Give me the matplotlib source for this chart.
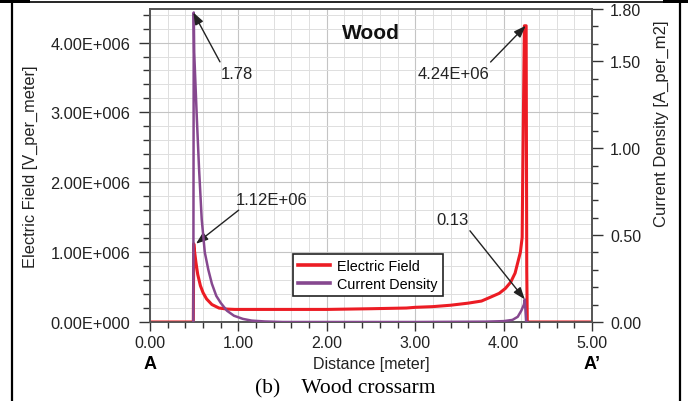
import numpy as np
import matplotlib.pyplot as plt
from matplotlib.lines import Line2D
from matplotlib.patches import Rectangle
from matplotlib.ticker import MultipleLocator, FixedLocator, FuncFormatter

plt.rcParams['font.family'] = ['Liberation Sans', 'DejaVu Sans']

# distance along A-A' [m]
dist_e = [0.0, 0.49, 0.495, 0.50, 0.52, 0.54, 0.57, 0.60, 0.64, 0.70, 0.78, 0.87,
          0.96, 1.0, 1.5, 2.0, 2.5, 2.9, 3.0, 3.2, 3.4, 3.6, 3.75, 3.86, 3.95,
          4.02, 4.08, 4.13, 4.16, 4.19, 4.21, 4.215, 4.235, 4.255, 4.262, 4.268, 5.0]
# electric field [1e6 V/m]
efield = [0.0, 0.0, 1.12, 1.05, 0.85, 0.68, 0.52, 0.42, 0.33, 0.25, 0.20, 0.185,
          0.18, 0.18, 0.18, 0.18, 0.19, 0.20, 0.21, 0.22, 0.24, 0.27, 0.30, 0.36, 0.41,
          0.48, 0.57, 0.70, 0.85, 1.0, 1.21, 1.9, 4.24, 4.24, 0.73, 0.0, 0.0]

dist_j = [0.49, 0.495, 0.50, 0.53, 0.555, 0.585, 0.62, 0.66, 0.70, 0.75, 0.80, 0.87,
          0.95, 1.05, 1.15, 1.3, 1.5, 2.0, 3.0, 3.8, 4.0, 4.1, 4.16, 4.20, 4.23,
          4.24, 4.255, 4.27]
# current density [A/m2]
jdens = [0.0, 1.78, 1.55, 1.17, 0.88, 0.59, 0.40, 0.30, 0.22, 0.15, 0.11, 0.065,
         0.036, 0.018, 0.008, 0.003, 0.0, 0.0, 0.0, 0.002, 0.005, 0.012, 0.03, 0.065, 0.10,
         0.13, 0.0, 0.0]

red = '#ec1c24'
purple = '#86488f'
gray = '#333333'

fig = plt.figure(figsize=(6.88, 4.02), dpi=100)
ax = fig.add_axes([150/688, 79/402, 442/688, 313/402])
ax2 = ax.twinx()

ax.plot(dist_e, np.array(efield) * 1e6, color=red, lw=2.2, label='Electric Field', zorder=3)
ax2.plot(dist_j, jdens, color=purple, lw=1.8, label='Current Density', zorder=3)

ax.set_xlim(0, 5)
ax.set_ylim(0, 4.48e6)
ax2.set_ylim(0, 1.80)

ax.xaxis.set_major_locator(MultipleLocator(1))
ax.xaxis.set_minor_locator(MultipleLocator(0.2))
ax.xaxis.set_major_formatter(FuncFormatter(lambda v, p: f'{v:.2f}'))
ax.yaxis.set_major_locator(MultipleLocator(1e6))
ax.yaxis.set_minor_locator(MultipleLocator(0.2e6))


def sci(v, p):
    if v <= 0:
        return '0.00E+000'
    e = int(np.floor(np.log10(v)))
    return f'{v / 10**e:.2f}E+{e:03d}'


ax.yaxis.set_major_formatter(FuncFormatter(sci))
ax2.yaxis.set_major_locator(FixedLocator([0, 0.5, 1.0, 1.5, 1.8]))
ax2.yaxis.set_minor_locator(MultipleLocator(0.1))
ax2.yaxis.set_major_formatter(FuncFormatter(lambda v, p: f'{v:.2f}'))

ax.grid(True, which='major', color='#c4c4c4', lw=0.8)
ax.grid(True, which='minor', color='#dedede', lw=0.7)
ax.set_axisbelow(True)

ax.tick_params(axis='y', which='major', length=8, width=1, pad=6, labelsize=11.8,
               colors=gray, labelcolor='#222222')
ax.tick_params(axis='y', which='minor', length=5, width=1, colors=gray)
ax.tick_params(axis='x', which='major', length=6.5, width=1, pad=3, labelsize=11.5,
               colors=gray, labelcolor='#222222')
ax.tick_params(axis='x', which='minor', length=4, width=1, colors=gray)
ax2.tick_params(axis='y', which='major', length=8, width=1, pad=5, labelsize=11.5,
                colors=gray, labelcolor='#222222')
ax2.tick_params(axis='y', which='minor', length=4.5, width=1, colors=gray)

for a in (ax, ax2):
    for s in a.spines.values():
        s.set_color('#555555')
        s.set_linewidth(1.2)

ax.set_ylabel('Electric Field [V_per_meter]', fontsize=11.8, color='#222222')
ax.yaxis.set_label_coords(-0.253, 0.5)
ax2.set_ylabel('Current Density [A_per_m2]', fontsize=12, color='#222222')
ax2.yaxis.set_label_coords(1.14, 0.636)
ax.set_xlabel('Distance [meter]', fontsize=11.5, color='#222222', labelpad=4)

ax.text(0.5, 0.925, 'Wood', transform=ax.transAxes, ha='center', va='center',
        fontsize=15, fontweight='bold', color='#111111')

ax.text(0.0, -0.131, 'A', transform=ax.get_xaxis_transform(), ha='center', va='center',
        fontsize=13, fontweight='bold')
ax.text(5.0, -0.131, 'A\u2019', transform=ax.get_xaxis_transform(), ha='center', va='center',
        fontsize=13, fontweight='bold')

arr = dict(arrowstyle='-|>,head_length=0.6,head_width=0.22', color='#222222', lw=1,
           shrinkA=1, shrinkB=0)
ax2.annotate('1.78', xy=(0.49, 1.78), xytext=(0.98, 1.43), fontsize=12, ha='center',
             va='center', color='#222222', arrowprops=dict(arr, relpos=(0.05, 1)))
ax.annotate('1.12E+06', xy=(0.52, 1.12e6), xytext=(1.38, 1.76e6), fontsize=12, ha='center',
            va='center', color='#222222', arrowprops=dict(arr, relpos=(0.1, 0)))
ax.annotate('4.24E+06', xy=(4.25, 4.24e6), xytext=(3.43, 3.56e6), fontsize=12, ha='center',
            va='center', color='#222222', arrowprops=dict(arr, relpos=(0.97, 1)))
ax2.annotate('0.13', xy=(4.24, 0.13), xytext=(3.42, 0.59), fontsize=12, ha='center',
             va='center', color='#222222', arrowprops=dict(arr, relpos=(0.95, 0)))

handles = [Line2D([], [], color=red, lw=2.6), Line2D([], [], color=purple, lw=2.6)]
leg = ax2.legend(handles, ['Electric Field', 'Current Density'], loc='lower left',
                 bbox_to_anchor=(0.3235, 0.083), borderaxespad=0, fontsize=10.4,
                 fancybox=False, framealpha=1, edgecolor='#222222', handlelength=2.2,
                 borderpad=0.35, labelspacing=0.25, handletextpad=0.5)
leg.get_frame().set_linewidth(1.2)

fig.text(345/688, 13/402, '(b)    Wood crossarm', ha='center', va='center',
         fontsize=15.5, family='Liberation Serif')

# table-cell frame around the picture
fig.add_artist(Line2D([12/688, 12/688], [0, 1 - 3/402], transform=fig.transFigure,
                      color='k', lw=1.6))
fig.add_artist(Line2D([680/688, 680/688], [0, 1 - 3/402], transform=fig.transFigure,
                      color='k', lw=1.6))
fig.add_artist(Line2D([12/688, 680/688], [1 - 3/402, 1 - 3/402], transform=fig.transFigure,
                      color='k', lw=1.2))
fig.add_artist(Rectangle((0, 1 - 4/402), 30/688, 4/402, transform=fig.transFigure,
                         color='k', lw=0))
fig.add_artist(Rectangle((663/688, 1 - 4/402), 25/688, 4/402, transform=fig.transFigure,
                         color='k', lw=0))

fig.savefig('out.png', dpi=100)
